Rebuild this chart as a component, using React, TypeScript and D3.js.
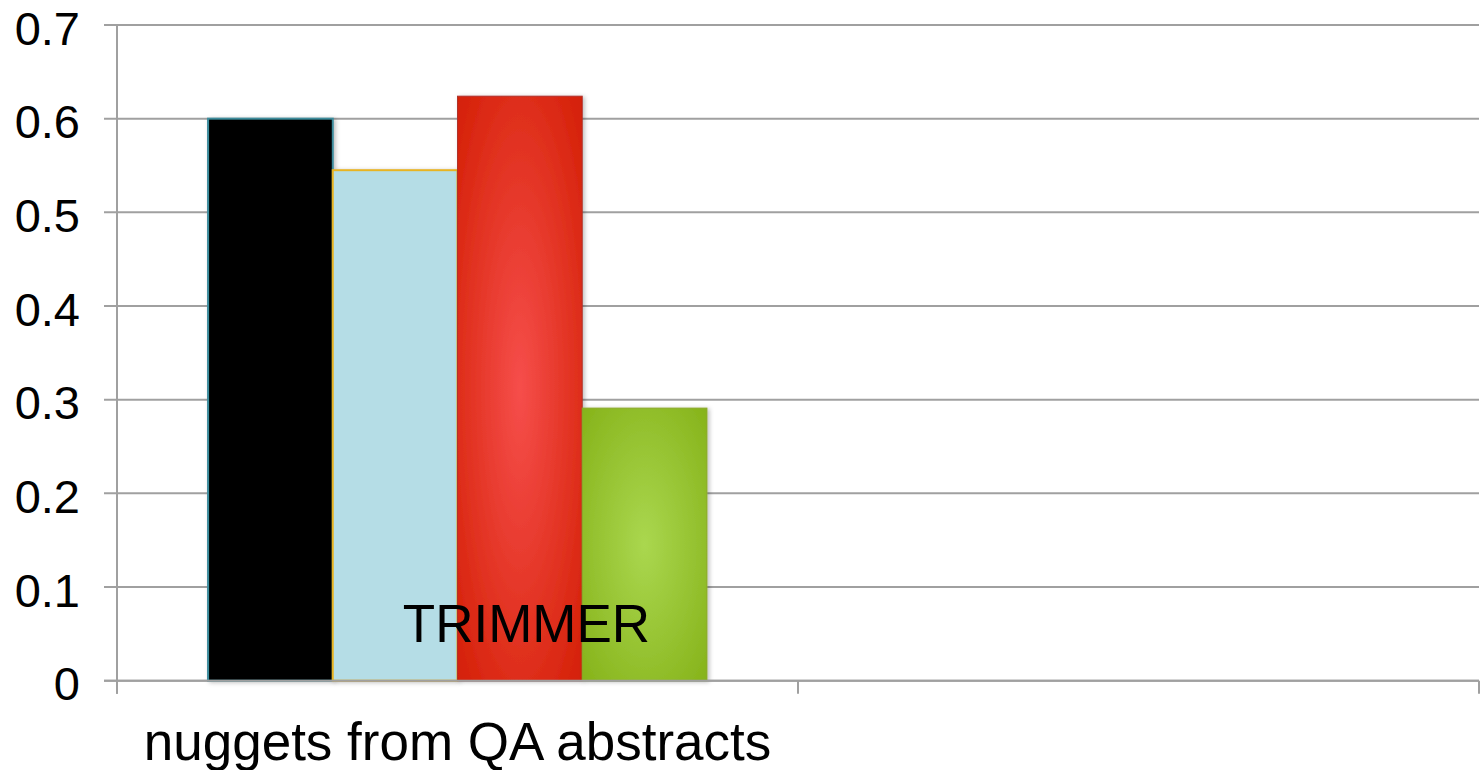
import React from "react";
import * as d3 from "d3";

const categories = ["nuggets from QA abstracts", ""];
const seriesNames = ["s1", "s2", "s3", "s4"];
const seriesValues = [
  [0.6, 0],
  [0.545, 0],
  [0.624, 0],
  [0.291, 0],
];
const yTicks = [0, 0.1, 0.2, 0.3, 0.4, 0.5, 0.6, 0.7];
const annotation = "TRIMMER";

const W = 1482;
const H = 770;
const left = 117;
const right = 1479;
const top = 25;
const bottom = 680.7;
const FONT = "'Liberation Sans', Arial, Helvetica, sans-serif";

export default function App() {
  const y = d3.scaleLinear().domain([0, 0.7]).range([bottom, top]);
  const x = d3.scaleBand<string>().domain(categories.map((c, i) => String(i))).range([left, right]).padding(0);
  const xs = d3
    .scaleBand<string>()
    .domain(seriesNames)
    .range([0, x.bandwidth()])
    .paddingInner(0)
    .paddingOuter(0.73);

  const fills = ["#000000", "#b5dde6", "url(#gRed)", "url(#gGreen)"];
  const strokes = ["#3d8c9c", "#e8b424", "#b0312a", "#8aa82a"];

  const gridColor = "#a0a0a0";

  return (
    <div style={{ position: "absolute", left: 0, top: 0 }}>
      <svg width={W} height={H} style={{ display: "block", background: "#fff" }}>
        <defs>
          <radialGradient id="gRed" cx="50%" cy="50%" r="70%">
            <stop offset="0%" stopColor="#f64e4b" />
            <stop offset="100%" stopColor="#d42006" />
          </radialGradient>
          <radialGradient id="gGreen" cx="50%" cy="50%" r="70%">
            <stop offset="0%" stopColor="#aad74f" />
            <stop offset="100%" stopColor="#86b31a" />
          </radialGradient>
          <filter id="shadow" x="-10%" y="-10%" width="130%" height="130%">
            <feDropShadow dx="2" dy="1" stdDeviation="2" floodColor="#000" floodOpacity="0.25" />
          </filter>
        </defs>

        {/* gridlines */}
        {yTicks.map((t) => (
          <line
            key={"g" + t}
            x1={104}
            x2={right}
            y1={y(t)}
            y2={y(t)}
            stroke={gridColor}
            strokeWidth={2}
          />
        ))}
        {/* y axis */}
        <line x1={left} x2={left} y1={top} y2={bottom + 13} stroke={gridColor} strokeWidth={2} />
        {/* x ticks */}
        {[left, ...categories.map((c, i) => (x(String(i)) as number) + x.bandwidth())].map((px, i) => (
          <line key={"xt" + i} x1={px} x2={px} y1={bottom} y2={bottom + 13} stroke={gridColor} strokeWidth={2} />
        ))}

        {/* y labels */}
        {yTicks.map((t) => (
          <text
            key={"l" + t}
            x={80}
            y={y(t) + 3}
            textAnchor="end"
            dominantBaseline="central"
            fontFamily={FONT}
            fontSize={47}
            fill="#000"
          >
            {t === 0 ? "0" : t.toFixed(1)}
          </text>
        ))}

        {/* bars */}
        {categories.map((c, ci) =>
          seriesNames.map((s, si) => {
            const v = seriesValues[si][ci];
            if (!v) return null;
            const bx = (x(String(ci)) as number) + (xs(s) as number);
            return (
              <rect
                key={c + s}
                x={bx}
                y={y(v)}
                width={xs.bandwidth()}
                height={y(0) - y(v)}
                fill={fills[si]}
                stroke={strokes[si]}
                strokeWidth={si < 2 ? 2 : 1}
                filter="url(#shadow)"
              />
            );
          })
        )}

        {/* bottom axis line over bars */}
        <line x1={104} x2={right} y1={bottom} y2={bottom} stroke={gridColor} strokeWidth={2} />

        {/* category labels */}
        {categories.map((c, i) => (
          <text
            key={"c" + i}
            x={(x(String(i)) as number) + x.bandwidth() / 2}
            y={760}
            textAnchor="middle"
            fontFamily={FONT}
            fontSize={53}
            fill="#000"
          >
            {c}
          </text>
        ))}

        {/* annotation */}
        <text x={526.5} y={641.5} textAnchor="middle" fontFamily={FONT} fontSize={53} fill="#000">
          {annotation}
        </text>
      </svg>
    </div>
  );
}
